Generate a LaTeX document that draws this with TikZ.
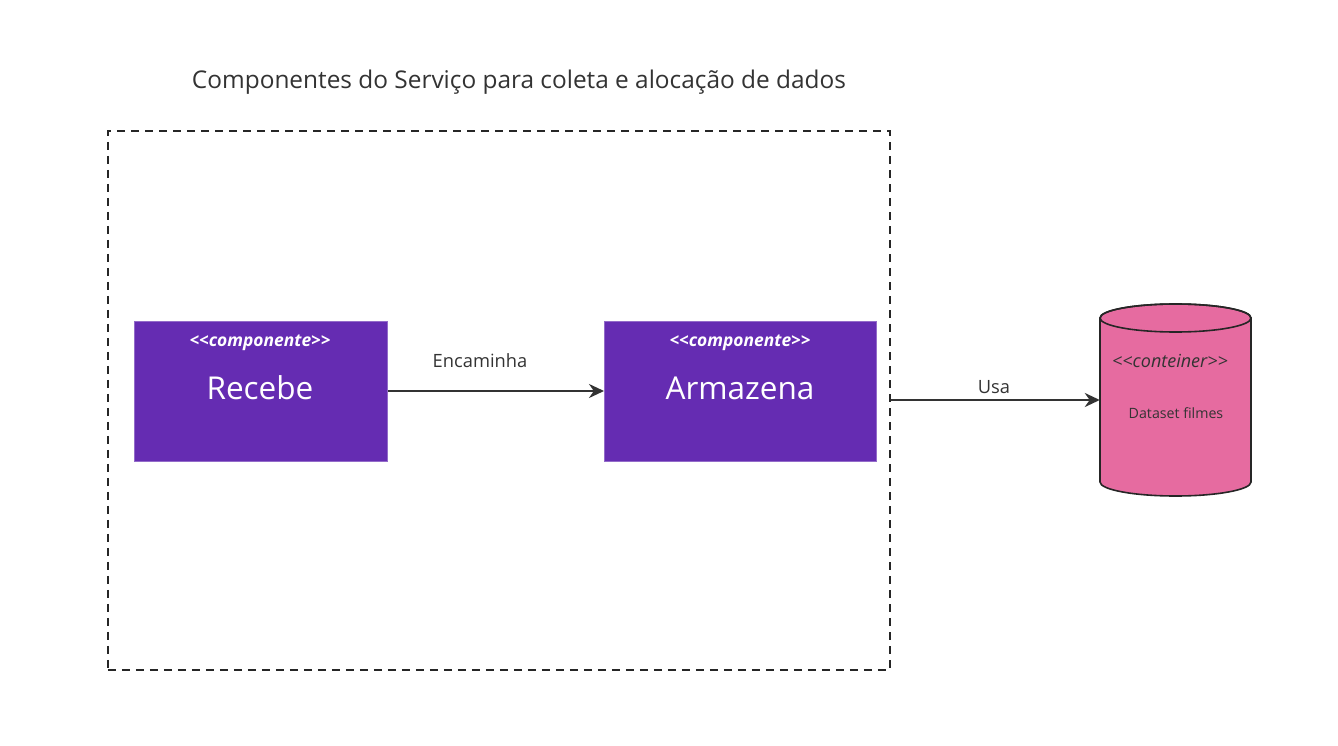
\documentclass[tikz,border=0pt]{standalone}
\usepackage{fontspec}
\setmainfont{Open Sans}
\usetikzlibrary{arrows.meta}
\definecolor{compfill}{RGB}{101,44,178}
\definecolor{dbfill}{RGB}{230,107,160}
\definecolor{ink}{RGB}{51,51,51}
\newcommand{\ltlt}{{<}{<}}
\newcommand{\gtgt}{{>}{>}}
\begin{document}
\begin{tikzpicture}[x=1pt,y=-1pt,
  comp/.style={draw=compfill!70!white, line width=0.8pt, fill=compfill, minimum width=253pt, minimum height=140pt, anchor=north west, inner sep=0pt},
  stereo/.style={text=white, font=\fontsize{17.4}{20}\selectfont\itshape\bfseries},
  cname/.style={text=white, font=\fontsize{31.5}{36}\selectfont},
  conn/.style={draw=ink, line width=2.4pt, -{Stealth[length=15pt,width=14pt]}},
  lbl/.style={text=ink, font=\fontsize{18.3}{21}\selectfont}]
\useasboundingbox (0,0) rectangle (1338,746);
\fill[white] (0,0) rectangle (1338,746);
% title
\node[text=ink, font=\fontsize{24.4}{28}\selectfont] (title) at (519,82) {Componentes do Serviço para coleta e alocação de dados};
% dashed frame
\node[draw=black!85, line width=1.8pt, dash pattern=on 8pt off 6pt, minimum width=782pt, minimum height=539pt, anchor=north west, inner sep=0pt] (frame) at (107,130) {};
% components
\node[comp] (rec) at (134,321) {};
\node[comp, minimum width=272pt] (arm) at (604,321) {};
\node[stereo] (recst) at (260,343) {\ltlt componente\gtgt};
\node[cname] (recnm) at (260,388) {Recebe};
\node[stereo] (armst) at (740,343) {\ltlt componente\gtgt};
\node[cname] (armnm) at (740,388) {Armazena};
% cylinder
\draw[fill=dbfill, draw=black!85, line width=1.6pt]
  (1100,318) -- (1100,482) arc[start angle=180, end angle=360, x radius=75.5pt, y radius=14pt]
  -- (1251,318) arc[start angle=0, end angle=180, x radius=75.5pt, y radius=14pt] -- cycle;
\draw[draw=black!85, line width=1.6pt] (1175.5,318) ellipse[x radius=75.5pt, y radius=14pt];
\node[minimum width=151pt, minimum height=192pt, inner sep=0pt] (db) at (1175.5,400) {};
\node[text=ink, font=\fontsize{18}{20}\selectfont\itshape] (dbst) at (1170,361) {\ltlt conteiner\gtgt};
\node[text=ink, font=\fontsize{14.2}{16}\selectfont] (dbnm) at (1176,413) {Dataset filmes};
% connectors
\draw[conn] (rec.east |- 0,391) -- (arm.west |- 0,391);
\node[lbl] (l1) at (480,361) {Encaminha};
\draw[conn] (frame.east |- 0,400) -- (db.west |- 0,400);
\node[lbl] (l2) at (994,387) {Usa};
\end{tikzpicture}
\end{document}
